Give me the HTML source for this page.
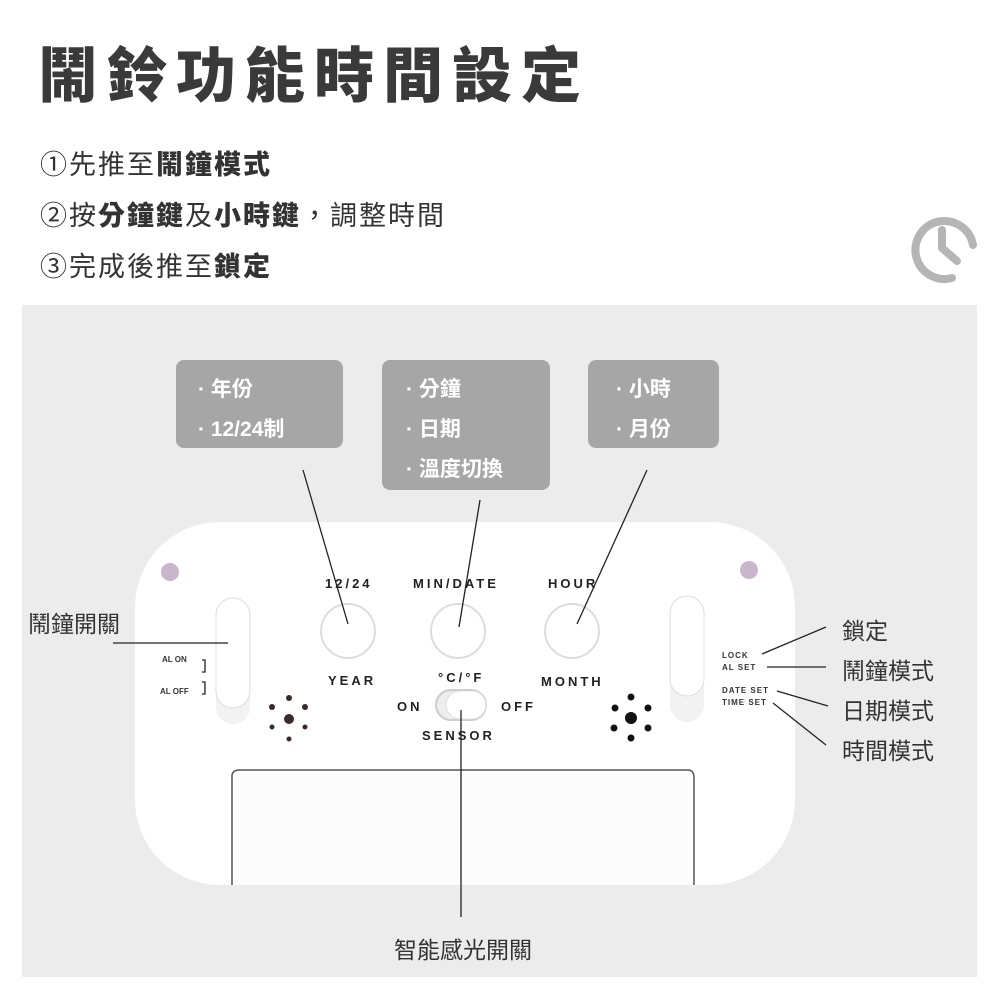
<!DOCTYPE html>
<html><head><meta charset="utf-8"><style>
body{margin:0;width:1000px;height:1000px;background:#fff;position:relative;overflow:hidden;font-family:"Liberation Sans","Noto Sans CJK TC",sans-serif;color:#333}
.a{position:absolute}
.t{font-size:60px;font-weight:900;color:#3a3a3a;left:38px;top:28px;letter-spacing:9px}
.s{font-size:27px;left:40px;color:#333;letter-spacing:2px}
.s b{font-weight:800}
.box{position:absolute;background:#a6a6a6;border-radius:8px;color:#fff;font-size:21px;font-weight:700;line-height:40px;padding-top:10px;box-sizing:border-box}
.lbl{font-size:23px;color:#333;position:absolute}
.d{font-size:13px;font-weight:700;letter-spacing:3px;color:#222;position:absolute}
</style></head><body>
<div class="a t">鬧鈴功能時間設定</div>
<div class="a s" style="top:143px">①先推至<b>鬧鐘模式</b></div>
<div class="a s" style="top:194px">②按<b>分鐘鍵</b>及<b>小時鍵</b>，調整時間</div>
<div class="a s" style="top:245px">③完成後推至<b>鎖定</b></div>
<svg class="a" style="left:0;top:0" width="1000" height="1000">
<path d="M952 278 A29 29 0 1 1 973 245" fill="none" stroke="#b5b5b5" stroke-width="8" stroke-linecap="round"/>
<path d="M942 230 L942 248 L957 261" fill="none" stroke="#b5b5b5" stroke-width="8" stroke-linecap="round" stroke-linejoin="round"/>
<rect x="22" y="305" width="955" height="672" fill="#ececec"/>
<rect x="135" y="522" width="660" height="363" rx="85" fill="#fff"/>
<path d="M232 885 L232 776 Q232 770 240 770 L688 770 Q694 770 694 778 L694 885" fill="#fcfcfc" stroke="#555" stroke-width="1.5"/>
<circle cx="170" cy="572" r="9" fill="#c9b6cc"/>
<circle cx="749" cy="570" r="9" fill="#c9b6cc"/>
<rect x="216" y="598" width="34" height="126" rx="17" fill="#f2f2f2"/>
<rect x="216" y="598" width="34" height="110" rx="17" fill="#fff" stroke="#ddd"/>
<rect x="670" y="596" width="34" height="126" rx="17" fill="#f2f2f2"/>
<rect x="670" y="596" width="34" height="100" rx="17" fill="#fff" stroke="#ddd"/>
<circle cx="348" cy="631" r="27" fill="#fff" stroke="#ddd" stroke-width="2"/>
<circle cx="458" cy="631" r="27" fill="#fff" stroke="#ddd" stroke-width="2"/>
<circle cx="572" cy="631" r="27" fill="#fff" stroke="#ddd" stroke-width="2"/>
<rect x="436" y="690" width="50" height="30" rx="15" fill="#eee" stroke="#ccc" stroke-width="2"/>
<rect x="446" y="691" width="40" height="28" rx="14" fill="#fff" stroke="#ddd"/>
<g fill="#3a2a2a"><circle cx="289" cy="698" r="3"/><circle cx="272" cy="707" r="3"/><circle cx="305" cy="707" r="3"/><circle cx="289" cy="719" r="5"/><circle cx="272" cy="727" r="2.5"/><circle cx="305" cy="727" r="2.5"/><circle cx="289" cy="739" r="2.5"/></g>
<g fill="#111"><circle cx="631" cy="697" r="3.5"/><circle cx="615" cy="708" r="3.5"/><circle cx="648" cy="708" r="3.5"/><circle cx="631" cy="718" r="6"/><circle cx="614" cy="728" r="3.5"/><circle cx="648" cy="728" r="3.5"/><circle cx="631" cy="738" r="3.5"/></g>
<g stroke="#222" stroke-width="1.3" fill="none">
<line x1="303" y1="470" x2="348" y2="624"/>
<line x1="480" y1="500" x2="459" y2="627"/>
<line x1="647" y1="470" x2="577" y2="624"/>
<line x1="113" y1="643" x2="228" y2="643"/>
<line x1="461" y1="710" x2="461" y2="917"/>
<line x1="762" y1="654" x2="826" y2="627"/>
<line x1="767" y1="667" x2="826" y2="667"/>
<line x1="777" y1="691" x2="828" y2="706"/>
<line x1="773" y1="703" x2="826" y2="745"/>
<path d="M202 660 h3 v12 h-3 M202 694 h3 v-12 h-3"/>
</g>
</svg>
<div class="d" style="left:325px;top:576px">12/24</div>
<div class="d" style="left:413px;top:576px">MIN/DATE</div>
<div class="d" style="left:548px;top:576px">HOUR</div>
<div class="d" style="left:328px;top:673px">YEAR</div>
<div class="d" style="left:438px;top:670px">°C/°F</div>
<div class="d" style="left:541px;top:674px">MONTH</div>
<div class="d" style="left:397px;top:699px">ON</div>
<div class="d" style="left:501px;top:699px">OFF</div>
<div class="d" style="left:422px;top:728px">SENSOR</div>
<div class="a" style="left:162px;top:655px;font-size:8px;font-weight:700">AL ON</div>
<div class="a" style="left:160px;top:687px;font-size:8px;font-weight:700">AL OFF</div>
<div class="a" style="left:722px;top:650px;font-size:8px;font-weight:700;line-height:12px;letter-spacing:1px">LOCK<br>AL SET</div>
<div class="a" style="left:722px;top:685px;font-size:8px;font-weight:700;line-height:12px;letter-spacing:1px">DATE SET<br>TIME SET</div>
<div class="box" style="left:176px;top:360px;width:167px;height:88px;padding-left:22px">· 年份<br>· 12/24制</div>
<div class="box" style="left:382px;top:360px;width:168px;height:130px;padding-left:24px">· 分鐘<br>· 日期<br>· 溫度切換</div>
<div class="box" style="left:588px;top:360px;width:131px;height:88px;padding-left:28px">· 小時<br>· 月份</div>
<div class="lbl" style="left:28px;top:605px">鬧鐘開關</div>
<div class="lbl" style="left:842px;top:612px">鎖定</div>
<div class="lbl" style="left:842px;top:652px">鬧鐘模式</div>
<div class="lbl" style="left:842px;top:692px">日期模式</div>
<div class="lbl" style="left:842px;top:732px">時間模式</div>
<div class="lbl" style="left:394px;top:931px">智能感光開關</div>
</body></html>
